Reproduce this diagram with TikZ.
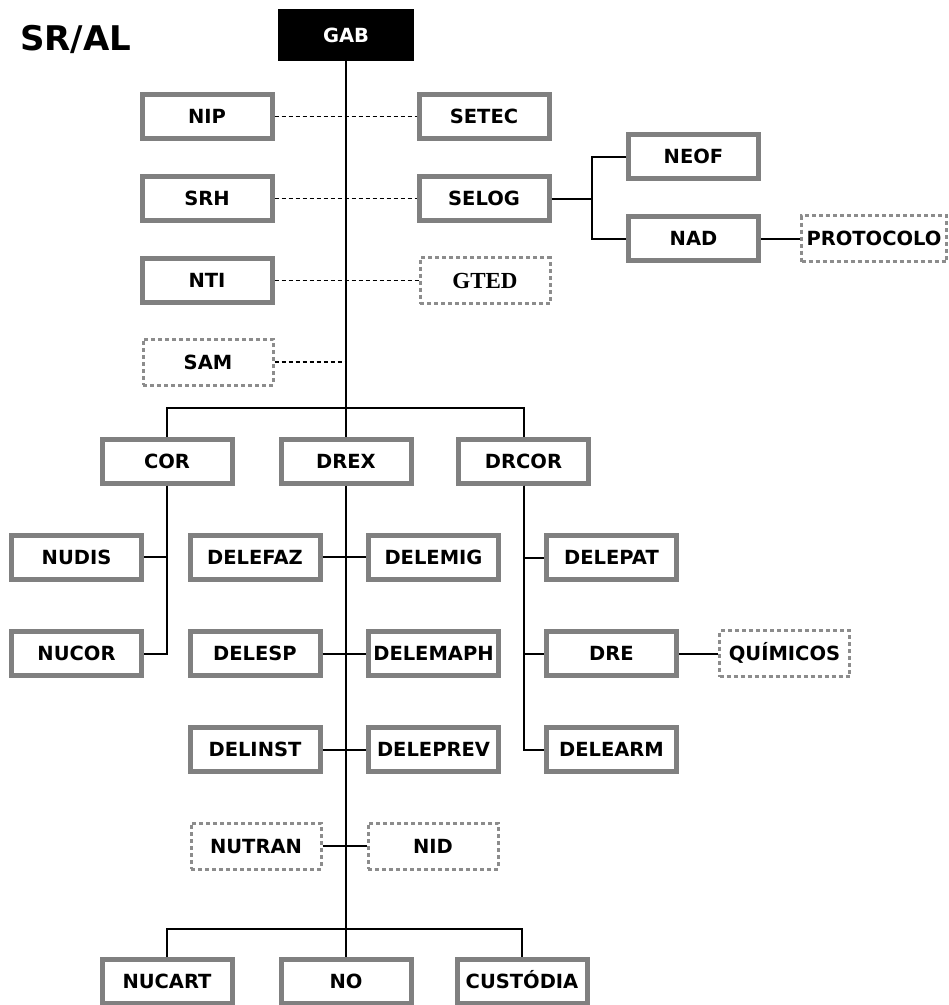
\documentclass[tikz,border=0pt]{standalone}
\usepackage{fontspec}
\setmainfont{DejaVu Sans}
\newfontfamily\gtedfont{Liberation Serif}
\definecolor{boxgray}{RGB}{128,128,128}
\definecolor{dgray}{RGB}{140,140,140}
\begin{document}
\begin{tikzpicture}[x=1pt,y=-1pt,
  lbl/.style={font=\bfseries\fontsize{19.5}{19.5}\selectfont, text height=14.5pt, text depth=0pt},
  box/.style={lbl, draw=boxgray, line width=5pt, fill=white, minimum width=130pt,
    minimum height=44pt, inner sep=0pt, outer sep=2.5pt},
  dbox/.style={lbl, draw=dgray, line width=3pt, dash pattern=on 4pt off 3pt, fill=white,
    minimum width=130pt, minimum height=46pt, inner sep=0pt, outer sep=1.5pt},
  conn/.style={line width=2pt, black},
  dconn/.style={line width=1.7pt, black, dash pattern=on 4pt off 3pt}]
\useasboundingbox (0,0) rectangle (949,1005);

\node[anchor=base west, inner sep=0pt, font=\bfseries\fontsize{34}{34}\selectfont] (title) at (20,50) {SR/AL};
\node[fill=black, text=white, minimum width=136pt, minimum height=52pt, inner sep=0pt, lbl] (GAB) at (346,35) {GAB};

\node[box] (NIP) at (207,116.5) {NIP};
\node[box] (SETEC) at (484,116.5) {SETEC};
\node[box] (SRH) at (207,198.5) {SRH};
\node[box] (SELOG) at (484,198.5) {SELOG};
\node[box] (NTI) at (207,280.5) {NTI};
\node[dbox, font=\gtedfont\bfseries\fontsize{23}{23}\selectfont, text height=15.5pt] (GTED) at (485,280.5) {GTED};
\node[dbox] (SAM) at (208,362) {SAM};
\node[box] (NEOF) at (693.5,156.5) {NEOF};
\node[box] (NAD) at (693.5,238.5) {NAD};
\node[dbox, minimum width=145pt] (PROT) at (874,238.5) {PROTOCOLO};

\node[box] (COR) at (167,461) {COR};
\node[box] (DREX) at (346,461) {DREX};
\node[box] (DRCOR) at (523.5,461) {DRCOR};

\node[box] (NUDIS) at (76.5,557) {NUDIS};
\node[box] (NUCOR) at (76.5,653.5) {NUCOR};

\node[box] (DELEFAZ) at (255,557) {DELEFAZ};
\node[box] (DELEMIG) at (433.5,557) {DELEMIG};
\node[box] (DELESP) at (255,653.5) {DELESP};
\node[box] (DELEMAPH) at (433.5,653.5) {DELEMAPH};
\node[box] (DELINST) at (255,749.5) {DELINST};
\node[box] (DELEPREV) at (433.5,749.5) {DELEPREV};
\node[dbox] (NUTRAN) at (256,846) {NUTRAN};
\node[dbox] (NID) at (433,846) {NID};

\node[box] (DELEPAT) at (611.5,557.5) {DELEPAT};
\node[box] (DRE) at (611.5,653.5) {DRE};
\node[box] (DELEARM) at (611.5,749.5) {DELEARM};
\node[dbox] (QUIM) at (784.5,653.5) {QUÍMICOS};

\node[box] (NUCART) at (167,981.5) {NUCART};
\node[box] (NO) at (346,981.5) {NO};
\node[box] (CUST) at (522,981.5) {CUSTÓDIA};

\coordinate (bus) at (346,408);
\coordinate (bbus) at (346,929);
\coordinate (brk) at (592,198.5);

% main trunk
\draw[conn] (GAB.south) -- (DREX.north);
\draw[conn] (COR.north) |- (bus) -| (DRCOR.north);
\draw[conn] (DREX.south) -- (NO.north);
\draw[conn] (NUCART.north) |- (bbus) -| (CUST.north);

% staff links
\draw[dconn] (NIP.east) -- (SETEC.west);
\draw[dconn] (SRH.east) -- (SELOG.west);
\draw[dconn] (NTI.east) -- (GTED.west);
\draw[dconn] (SAM.east) -- (SAM.east -| GAB.south);

% SELOG
\draw[conn] (SELOG.east) -- (brk);
\draw[conn] (NEOF.west) -| (brk) |- (NAD.west);
\draw[conn] (NAD.east) -- (PROT.west);

% COR
\draw[conn] (COR.south) |- (NUDIS.east);
\draw[conn] (COR.south) |- (NUCOR.east);

% DREX
\draw[conn] (DELEFAZ.east) -- (DELEMIG.west);
\draw[conn] (DELESP.east) -- (DELEMAPH.west);
\draw[conn] (DELINST.east) -- (DELEPREV.west);
\draw[conn] (NUTRAN.east) -- (NID.west);

% DRCOR
\draw[conn] (DRCOR.south) |- (DELEPAT.west);
\draw[conn] (DRCOR.south) |- (DRE.west);
\draw[conn] (DRCOR.south) |- (DELEARM.west);
\draw[conn] (DRE.east) -- (QUIM.west);
\end{tikzpicture}
\end{document}
